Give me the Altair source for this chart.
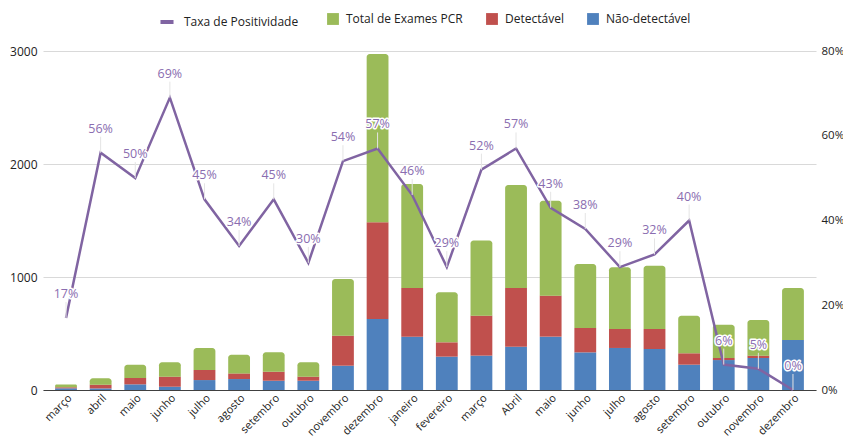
import altair as alt
import pandas as pd

meses = ["março", "abril", "maio", "junho", "julho", "agosto", "setembro", "outubro",
         "novembro", "dezembro", "janeiro", "fevereiro", "março", "Abril", "maio", "junho",
         "julho", "agosto", "setembro", "outubro", "novembro", "dezembro"]
nao_detectavel = [15, 14, 50, 29, 88, 97, 82, 82, 215, 628, 472, 295, 304, 383, 472, 333,
                  372, 363, 224, 265, 283, 442]
detectavel = [9, 33, 56, 89, 89, 50, 80, 36, 266, 856, 431, 127, 354, 520, 363, 216,
              168, 177, 101, 18, 21, 0]
total_pcr = [24, 58, 118, 127, 195, 166, 171, 127, 501, 1489, 920, 442, 664, 911, 840, 566,
             546, 560, 333, 295, 315, 461]
positividade = [17, 56, 50, 69, 45, 34, 45, 30, 54, 57, 46, 29, 52, 57, 43, 38, 29, 32, 40, 6, 5, 0]

series = ["Total de Exames PCR", "Detectável", "Não-detectável"]
cores = ["#9BBB59", "#C0504D", "#4F81BD"]

rows = []
for i in range(len(meses)):
    lo = 0
    for serie, vals in [("Não-detectável", nao_detectavel), ("Detectável", detectavel),
                        ("Total de Exames PCR", total_pcr)]:
        v = vals[i]
        rows.append({"i": i, "serie": serie, "lo": lo, "hi": lo + v})
        lo += v
bars_df = pd.DataFrame(rows)

line_df = pd.DataFrame({
    "i": list(range(len(meses))),
    "taxa": [p / 100 for p in positividade],
    "rotulo": [f"{p}%" for p in positividade],
    "serie": ["Taxa de Positividade"] * len(meses),
})

FONT = "Open Sans"
label_expr = "[" + ",".join(f"'{m}'" for m in meses) + "][datum.value]"

x_enc = alt.X("i:O",
              scale=alt.Scale(paddingInner=0.37, paddingOuter=0.35),
              axis=alt.Axis(title=None, labelExpr=label_expr, labelAngle=-45, ticks=False,
                            domainColor="#404040", domainWidth=1, labelFontSize=11,
                            labelColor="#222222", labelPadding=2, labelFont=FONT))

color_enc = alt.Color("serie:N",
                      scale=alt.Scale(domain=series, range=cores),
                      legend=alt.Legend(orient="none", legendX=284, legendY=-38,
                                        direction="horizontal", title=None,
                                        symbolType="square", symbolSize=140,
                                        symbolStrokeWidth=0, labelFontSize=12,
                                        labelFont=FONT, labelColor="#222222",
                                        columnPadding=23, labelOffset=7, padding=0))

y_left = alt.Y("lo:Q", scale=alt.Scale(domain=[0, 3000]),
               axis=alt.Axis(title=None, values=[0, 1000, 2000, 3000], format="d", grid=True,
                             gridColor="#d9d9d9", domain=False, ticks=False,
                             labelFontSize=12, labelColor="#222222", labelPadding=6,
                             labelFont=FONT))

bars_base = alt.Chart(bars_df)
bars_low = bars_base.mark_bar().encode(
    x=x_enc, y=y_left, y2="hi:Q", color=color_enc
).transform_filter(alt.datum.serie != "Total de Exames PCR")
bars_top = bars_base.mark_bar(cornerRadiusTopLeft=3, cornerRadiusTopRight=3).encode(
    x=x_enc, y=y_left, y2="hi:Q", color=color_enc
).transform_filter(alt.datum.serie == "Total de Exames PCR")
bars_layer = alt.layer(bars_low, bars_top)

y_right = alt.Y("taxa:Q", scale=alt.Scale(domain=[0, 0.8]),
                axis=alt.Axis(orient="right", format="%", values=[0, 0.2, 0.4, 0.6, 0.8],
                              grid=False, domain=False, ticks=False, title=None,
                              labelPadding=5, labelFontSize=11.5, labelColor="#222222",
                              labelFont=FONT))

line_base = alt.Chart(line_df)
line = line_base.mark_line(strokeWidth=2.5).encode(
    x=x_enc, y=y_right,
    stroke=alt.Stroke("serie:N", scale=alt.Scale(range=["#8064A2"]),
                      legend=alt.Legend(orient="none", legendX=115, legendY=-38, title=None,
                                        symbolType="stroke", symbolStrokeWidth=4,
                                        symbolSize=170, labelFontSize=12, labelFont=FONT,
                                        labelColor="#222222", labelOffset=8, padding=0))
)
leaders = line_base.mark_rule(color="#e4e4e4", strokeWidth=1, y2Offset=-16).encode(
    x=x_enc, y="taxa:Q", y2="taxa:Q"
)
halo = line_base.mark_text(dy=-24, fontSize=12.5, font=FONT, color="white",
                           stroke="white", strokeWidth=3, strokeJoin="round").encode(
    x=x_enc, y="taxa:Q", text="rotulo:N"
)
labels = line_base.mark_text(dy=-24, fontSize=12.5, font=FONT, color="#8a6db0").encode(
    x=x_enc, y="taxa:Q", text="rotulo:N"
)

right_layer = alt.layer(line, leaders, halo, labels)

chart = alt.layer(bars_layer, right_layer).resolve_scale(
    y="independent"
).properties(
    width=773, height=339,
    autosize=alt.AutoSizeParams(type="none"),
    padding={"left": 35, "top": 43, "right": 27, "bottom": 50},
).configure_view(stroke=None)

chart.save("out.html", embed_options={"renderer": "svg", "actions": False})
